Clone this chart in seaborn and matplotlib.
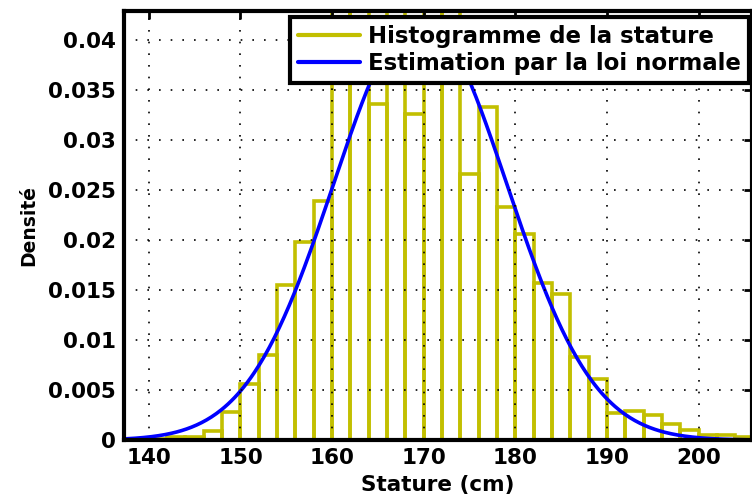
import numpy as np
import matplotlib
matplotlib.use('Agg')
import matplotlib.pyplot as plt
import seaborn as sns
from matplotlib.lines import Line2D
from matplotlib.ticker import FuncFormatter

# histogram of the stature (density per 2 cm bin)
bin_edges = list(range(138, 208, 2))
densities = [0.0001, 0.0001, 0.0003, 0.0003, 0.0009, 0.0028, 0.0056, 0.0085,
             0.0155, 0.0198, 0.0239, 0.046, 0.047, 0.0336, 0.048, 0.0326,
             0.049, 0.046, 0.0266, 0.0333, 0.0233, 0.0206, 0.0157, 0.0146,
             0.0083, 0.0061, 0.0027, 0.0029, 0.0025, 0.0016, 0.0010, 0.0005,
             0.0005, 0.0003]
bin_centers = [e + 1 for e in bin_edges[:-1]]

# normal law fitted on the sample (mean, std in cm)
mu = 169.6
sigma = 9.45

x_ticks = [140, 150, 160, 170, 180, 190, 200]
y_ticks = [0, 0.005, 0.01, 0.015, 0.02, 0.025, 0.03, 0.035, 0.04]

sns.set_style('white')
plt.rcParams['font.family'] = ['DejaVu Sans']
plt.rcParams['font.weight'] = 'bold'
plt.rcParams['text.color'] = 'k'
plt.rcParams['xtick.color'] = 'k'
plt.rcParams['ytick.color'] = 'k'
plt.rcParams['axes.labelcolor'] = 'k'

olive = (0.76, 0.75, 0.0)
blue = (0.0, 0.0, 1.0)

fig = plt.figure(figsize=(7.52, 4.99), dpi=100)
ax = fig.add_axes([0.165, 0.118, 0.835, 0.860])

sns.histplot(x=bin_centers, weights=densities, bins=bin_edges, stat='count',
             fill=False, element='bars', color=olive, linewidth=2.6, ax=ax)

xs = np.linspace(136, 208, 400)
pdf = np.exp(-(xs - mu) ** 2 / (2 * sigma ** 2)) / (sigma * np.sqrt(2 * np.pi))
sns.lineplot(x=xs, y=pdf, color=blue, linewidth=2.6, ax=ax)

ax.set_xlim(137.3, 205.8)
ax.set_ylim(0, 0.0429)
ax.set_xticks(x_ticks)
ax.set_yticks(y_ticks)
ax.yaxis.set_major_formatter(FuncFormatter(lambda v, p: '%g' % v))

ax.grid(True, linestyle=(0, (1, 6)), color='k', linewidth=1.2)
ax.set_axisbelow(False)

for s in ax.spines.values():
    s.set_linewidth(3)
    s.set_color('k')

ax.tick_params(axis='both', which='major', direction='in', length=6, width=2,
               top=True, right=True, labelsize=15.5, pad=6, colors='k')
for lab in ax.get_xticklabels() + ax.get_yticklabels():
    lab.set_fontweight('bold')

ax.set_xlabel('Stature (cm)', fontsize=15.5, fontweight='bold', labelpad=5)
ax.set_ylabel('Densité', fontsize=13.5, fontweight='bold', labelpad=7)

handles = [Line2D([], [], color=olive, linewidth=3),
           Line2D([], [], color=blue, linewidth=3)]
leg = ax.legend(handles, ['Histogramme de la stature',
                          'Estimation par la loi normale'],
                loc='upper right', bbox_to_anchor=(0.995, 0.985),
                fontsize=16.5, frameon=True, fancybox=False, framealpha=1,
                handlelength=2.7, handletextpad=0.35, borderpad=0.35,
                labelspacing=0.15, borderaxespad=0)
leg.get_frame().set_edgecolor('k')
leg.get_frame().set_linewidth(3)
for t in leg.get_texts():
    t.set_fontweight('bold')

fig.savefig('out.png', dpi=100)
